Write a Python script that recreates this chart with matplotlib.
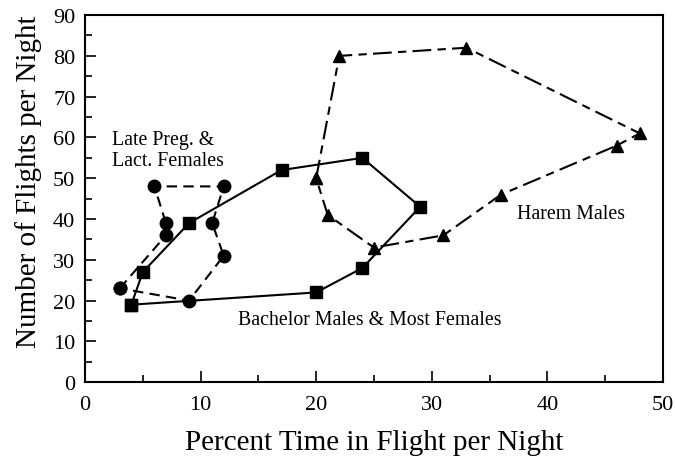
import matplotlib.pyplot as plt
from matplotlib.ticker import MultipleLocator

plt.rcParams['font.family'] = ['Liberation Serif', 'DejaVu Serif']

# Late pregnant & lactating females (circles, dashed)
preg_x = [3, 7, 7, 6, 12, 11, 12, 9, 3]
preg_y = [23, 36, 39, 48, 48, 39, 31, 20, 23]

# Bachelor males & most females (squares, solid)
bach_x = [4, 5, 9, 17, 24, 29, 24, 20, 4]
bach_y = [19, 27, 39, 52, 55, 43, 28, 22, 19]

# Harem males (triangles, dash-dot)
harem_x = [20, 22, 33, 48, 46, 36, 31, 25, 21, 20]
harem_y = [50, 80, 82, 61, 58, 46, 36, 33, 41, 50]

fig, ax = plt.subplots(figsize=(6.75, 4.6), dpi=100)
fig.subplots_adjust(left=0.126, right=0.982, top=0.965, bottom=0.167)

ax.plot(bach_x, bach_y, color='black', lw=1.5, marker='s', ms=9)
ax.plot(preg_x, preg_y, color='black', lw=1.5, marker='o', ms=9,
        dashes=(5, 3))
ax.plot(harem_x, harem_y, color='black', lw=1.5, marker='^', ms=9,
        dashes=(9, 3, 4, 3))

ax.text(2.3, 61.8, 'Late Preg. &\nLact. Females', fontsize=14.3,
        linespacing=1.1, va='top')
ax.text(13.2, 14.3, 'Bachelor Males & Most Females', fontsize=14.3)
ax.text(37.4, 40.2, 'Harem Males', fontsize=14.3)

ax.set_xlim(0, 50)
ax.set_ylim(0, 90)
ax.xaxis.set_major_locator(MultipleLocator(10))
ax.xaxis.set_minor_locator(MultipleLocator(5))
ax.yaxis.set_major_locator(MultipleLocator(10))
ax.yaxis.set_minor_locator(MultipleLocator(5))
ax.tick_params(which='both', direction='in', top=False, right=False,
               labelsize=16, width=1.2)
ax.tick_params(axis='x', which='major', length=8, pad=9)
ax.tick_params(axis='y', which='major', length=8, pad=7)
ax.tick_params(which='minor', length=5)
for s in ax.spines.values():
    s.set_linewidth(1.5)

ax.set_xlabel('Percent Time in Flight per Night', fontsize=21, labelpad=11)
ax.set_ylabel('Number of Flights per Night', fontsize=21, labelpad=8)
ax.yaxis.label.set_y(0.55)

fig.savefig('out.png', dpi=100)
